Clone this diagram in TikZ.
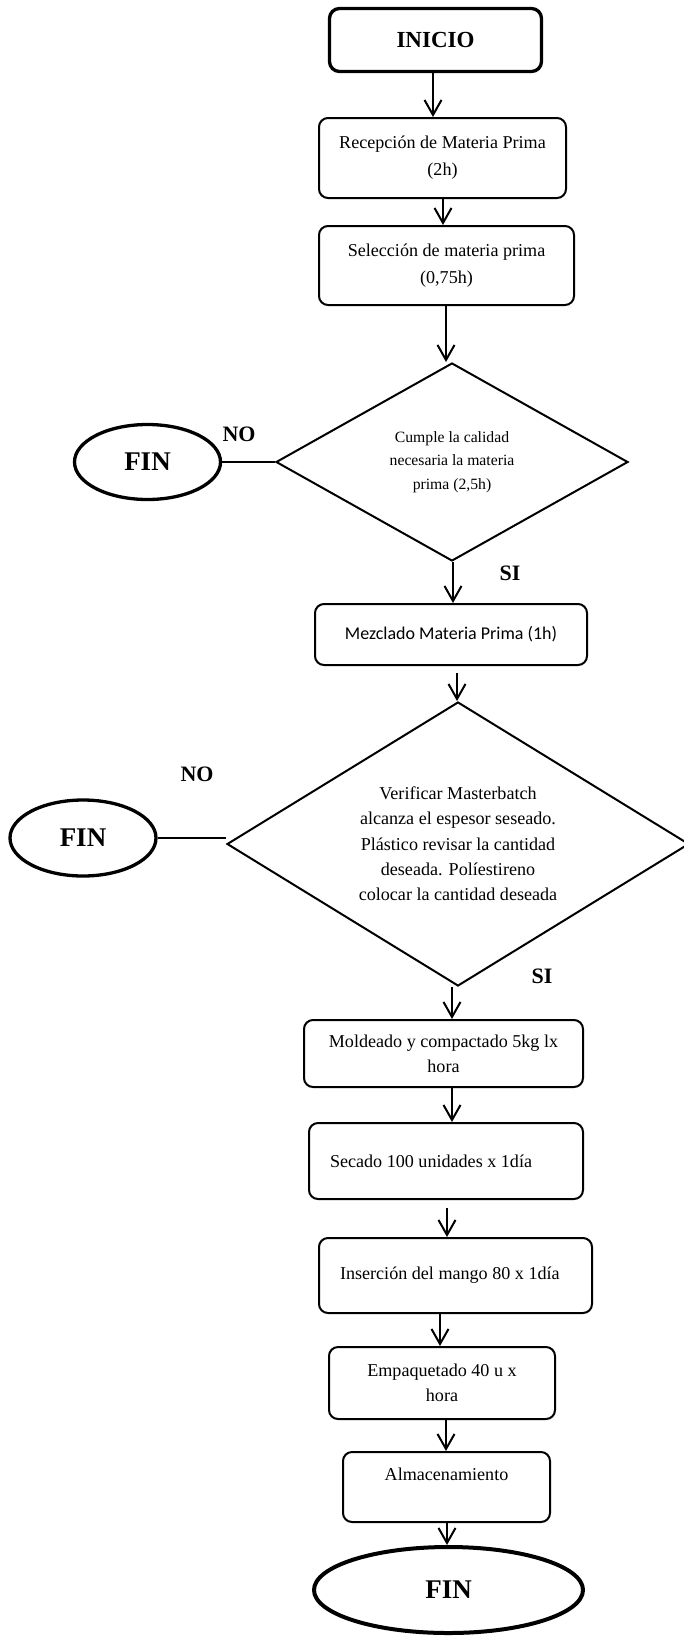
\documentclass[tikz,border=0pt]{standalone}
\usepackage{fontspec}
\setmainfont{Liberation Serif}
\newfontfamily\calib{Carlito}
\usetikzlibrary{shapes.geometric,arrows.meta}
\begin{document}
\begin{tikzpicture}[x=1pt,y=-1pt,
  box/.style={draw, line width=2pt, rounded corners=9pt, align=center, inner sep=2pt, font=\fontsize{18.1}{25}\selectfont},
  dia/.style={draw, diamond, line width=2pt, inner sep=0pt, align=center},
  term/.style={draw, ellipse, line width=3.3pt, inner sep=0pt, font=\bfseries\fontsize{27}{30}\selectfont},
  lbl/.style={font=\bfseries\fontsize{22}{24}\selectfont, inner sep=0pt},
  arr/.style={line width=2pt, -{Straight Barb[length=15pt,width=17pt]}},
  conn/.style={line width=2pt}]
\path[fill=white] (0,0) rectangle (684,1636);
\useasboundingbox (0,0) rectangle (684,1636);

\node[box, line width=3.3pt, rounded corners=10pt, minimum width=212pt, minimum height=63pt, font=\bfseries\fontsize{23}{26}\selectfont] (ini) at (435.5,40) {INICIO};
\node[box, minimum width=247pt, minimum height=80pt, font=\fontsize{18.1}{27}\selectfont] (rec) at (442.5,158) {Recepción de Materia Prima\\(2h)};
\node[box, minimum width=255pt, minimum height=79pt, font=\fontsize{18.1}{27}\selectfont] (sel) at (446.5,265.5) {Selección de materia prima\\(0,75h)};
\node[dia, minimum width=352pt, minimum height=198pt, aspect=1.77, font=\fontsize{15.7}{23.5}\selectfont] (d1) at (452,462) {Cumple la calidad\\necesaria la materia\\prima (2,5h)};
\node[term, minimum width=146pt, minimum height=75pt] (fin1) at (147.5,462) {FIN};
\node[lbl] (no1) at (239,434) {NO};
\node[lbl] (si1) at (510,573) {SI};
\node[box, minimum width=272pt, minimum height=61pt, font=\calib\fontsize{18}{22}\selectfont] (mez) at (451,634.5) {Mezclado Materia Prima (1h)};
\node[dia, minimum width=462pt, minimum height=284pt, aspect=1.62, font=\fontsize{18.1}{25.3}\selectfont] (d2) at (458,844) {Verificar Masterbatch\\alcanza el espesor seseado.\\Plástico revisar la cantidad\\deseada. Políestireno\\colocar la cantidad deseada};
\node[term, minimum width=146pt, minimum height=76pt] (fin2) at (83,838) {FIN};
\node[lbl] (no2) at (197,774) {NO};
\node[lbl] (si2) at (542,976) {SI};
\node[box, minimum width=279pt, minimum height=67pt] (mol) at (443.5,1053.5) {Moldeado y compactado 5kg lx\\hora};
\node[box, minimum height=76pt, text width=232pt, inner xsep=21pt, align=flush left] (sec) at (446,1161) {Secado 100 unidades x 1día};
\node[box, minimum height=75pt, text width=231pt, inner xsep=21pt, align=flush left] (ins) at (455.5,1275.5) {Inserción del mango 80 x 1día};
\node[box, minimum width=226pt, minimum height=72pt] (emp) at (442,1383) {Empaquetado 40 u x\\hora};
\node[box, minimum width=207pt, minimum height=70pt] (alm) at (446.5,1487) {Almacenamiento\\\mbox{}};
\node[term, line width=4pt, minimum width=269pt, minimum height=86pt] (fin3) at (448.5,1590) {FIN};

\coordinate (c1) at (433,0);
\coordinate (c2) at (443,0);
\coordinate (c3) at (446,0);
\coordinate (c4) at (453,0);
\coordinate (c5) at (457,0);
\coordinate (c6) at (452,0);
\coordinate (c7) at (452,0);
\coordinate (c8) at (447,0);
\coordinate (c9) at (440,0);
\coordinate (c10) at (446,0);
\coordinate (c11) at (447,0);

\draw[arr] (ini.south -| c1) -- (rec.north -| c1);
\draw[arr] (rec.south -| c2) -- (sel.north -| c2);
\draw[arr] (sel.south -| c3) -- (d1.north -| c3);
\draw[arr] (d1.south -| c4) -- (mez.north -| c4);
\draw[arr, shorten <=7pt] (mez.south -| c5) -- (d2.north -| c5);
\draw[arr] (d2.south -| c6) -- (mol.north -| c6);
\draw[arr] (mol.south -| c7) -- (sec.north -| c7);
\draw[arr, shorten <=8pt] (sec.south -| c8) -- (ins.north -| c8);
\draw[arr] (ins.south -| c9) -- (emp.north -| c9);
\draw[arr] (emp.south -| c10) -- (alm.north -| c10);
\draw[arr] (alm.south -| c11) -- (fin3.north -| c11);

\draw[conn] (fin1.east) -- (d1.west);
\draw[conn] (fin2.east) -- (fin2.east -| d2.west);
\end{tikzpicture}
\end{document}
